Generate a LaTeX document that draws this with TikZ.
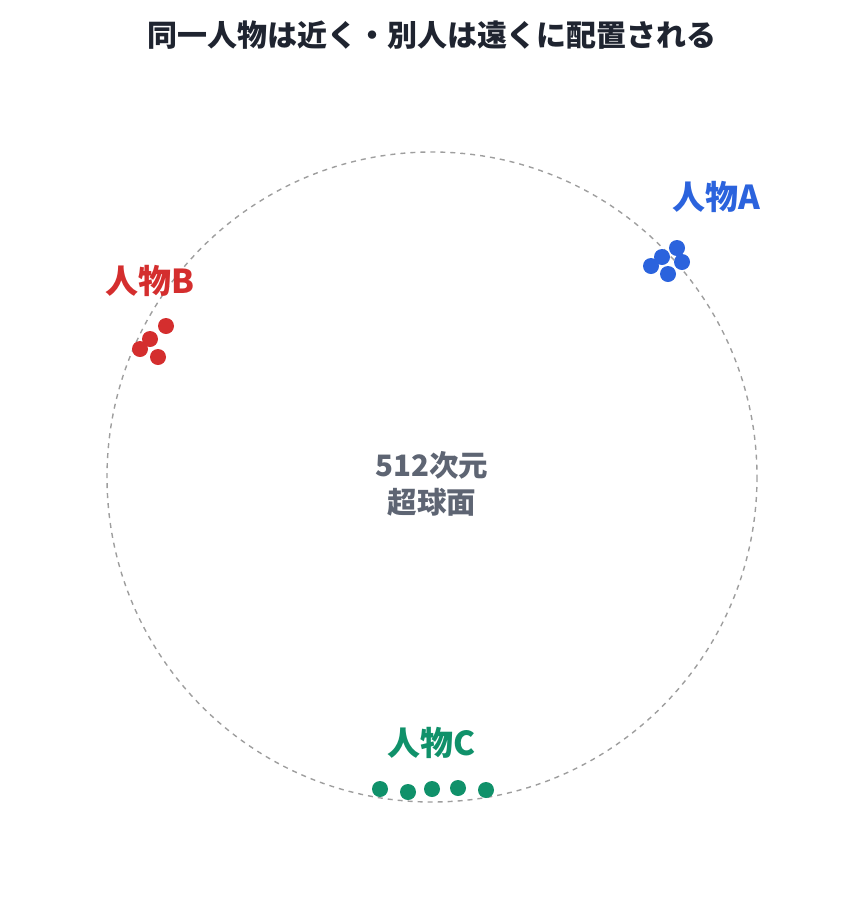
\documentclass[tikz,border=0pt]{standalone}
\usepackage{fontspec}
\setmainfont{Noto Sans CJK JP}
\definecolor{titlegray}{HTML}{1F2430}
\definecolor{spheregray}{HTML}{9E9E9E}
\definecolor{centergray}{HTML}{5E6573}
\definecolor{persona}{HTML}{2B63DD}
\definecolor{personb}{HTML}{D42E2E}
\definecolor{personc}{HTML}{10916A}
\tikzset{
  dot/.style={circle, fill=#1, inner sep=0pt, minimum size=16pt},
  who/.style={font=\bfseries\fontsize{33}{36}\selectfont, text=#1, inner sep=0pt}
}
\begin{document}
\begin{tikzpicture}[x=1pt, y=-1pt]
            \useasboundingbox (0,0) rectangle (864,903);
            % title
            \node[font=\bfseries\fontsize{30}{34}\selectfont, text=titlegray] (title) at (432,35) {同一人物は近く・別人は遠くに配置される};
            % sphere
            \draw[spheregray, line width=1.4pt, dash pattern=on 5pt off 5pt] (432,477) circle (325);
            \node[font=\bfseries\fontsize{29.5}{37}\selectfont, text=centergray, align=center] (sphere) at (432,484) {512次元\\超球面};
            % person A
            \node[who=persona] (labelA) at (716,197) {人物A};
            \node[dot=persona] (a1) at (651,266) {};
            \node[dot=persona] (a2) at (662,257) {};
            \node[dot=persona] (a3) at (677,248) {};
            \node[dot=persona] (a4) at (682,262) {};
            \node[dot=persona] (a5) at (668,274) {};
            % person B
            \node[who=personb] (labelB) at (150,281) {人物B};
            \node[dot=personb] (b1) at (166,326) {};
            \node[dot=personb] (b2) at (150,339) {};
            \node[dot=personb] (b3) at (140,349) {};
            \node[dot=personb] (b4) at (158,357) {};
            % person C
            \node[who=personc] (labelC) at (432,743) {人物C};
            \node[dot=personc] (c1) at (380,789) {};
            \node[dot=personc] (c2) at (408,792) {};
            \node[dot=personc] (c3) at (432,789) {};
            \node[dot=personc] (c4) at (458,788) {};
            \node[dot=personc] (c5) at (486,790) {};
\end{tikzpicture}
\end{document}
